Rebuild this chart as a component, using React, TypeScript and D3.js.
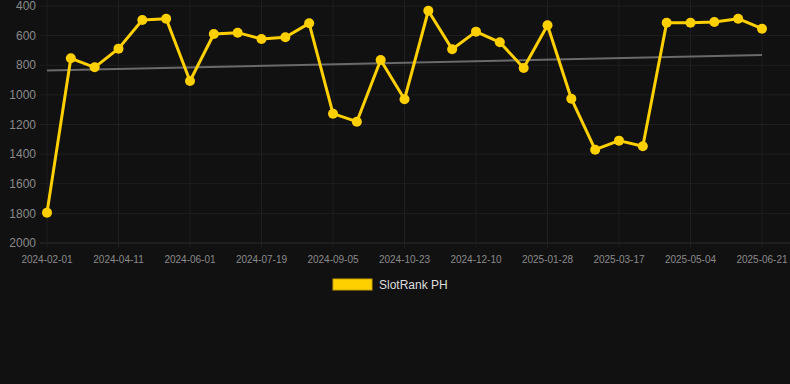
import React, { useEffect, useRef } from "react";
import * as d3 from "d3";

const dates = [
  "2024-02-01", "2024-02-24", "2024-03-18", "2024-04-11", "2024-04-28", "2024-05-15",
  "2024-06-01", "2024-06-17", "2024-07-03", "2024-07-19", "2024-08-04", "2024-08-20",
  "2024-09-05", "2024-09-21", "2024-10-07", "2024-10-23", "2024-11-08", "2024-11-24",
  "2024-12-10", "2024-12-26", "2025-01-12", "2025-01-28", "2025-02-13", "2025-03-01",
  "2025-03-17", "2025-04-02", "2025-04-18", "2025-05-04", "2025-05-20", "2025-06-05",
  "2025-06-21",
];

const ranks = [
  1795, 753, 814, 688, 495, 486, 906, 589, 580, 623, 611, 517, 1127, 1181, 765, 1030,
  432, 692, 573, 645, 819, 530, 1026, 1370, 1309, 1347, 513, 513, 508, 486, 553,
];

const yTicks = [400, 600, 800, 1000, 1200, 1400, 1600, 1800, 2000];
const seriesName = "SlotRank PH";

const W = 790;
const H = 384;

export default function App() {
  const ref = useRef<SVGSVGElement>(null);

  useEffect(() => {
    const svg = d3.select(ref.current);
    svg.selectAll("*").remove();

    const left = 47, right = 762, top = 6, bottom = 243;
    const gridRight = 790;

    const x = d3.scalePoint<string>().domain(dates).range([left, right]);
    const y = d3.scaleLinear().domain([400, 2000]).range([top, bottom]);

    svg.append("rect").attr("width", W).attr("height", H).attr("fill", "#111111");

    // horizontal grid + y labels
    const g = svg.append("g");
    g.selectAll("line.h")
      .data(yTicks)
      .enter()
      .append("line")
      .attr("x1", 40)
      .attr("x2", gridRight)
      .attr("y1", (d) => y(d))
      .attr("y2", (d) => y(d))
      .attr("stroke", (d) => (d === 2000 ? "#2c2c2c" : "#1f1f1f"))
      .attr("stroke-width", 1);

    g.selectAll("text.y")
      .data(yTicks)
      .enter()
      .append("text")
      .attr("x", 36)
      .attr("y", (d) => y(d))
      .attr("dy", "0.35em")
      .attr("text-anchor", "end")
      .attr("fill", "#8a8a8a")
      .attr("font-family", "Arial, 'Liberation Sans', sans-serif")
      .attr("font-size", 12)
      .text((d) => d);

    // vertical grid + x labels, every third category
    const shown = dates.filter((_, i) => i % 3 === 0);
    g.selectAll("line.v")
      .data(shown)
      .enter()
      .append("line")
      .attr("x1", (d) => x(d)!)
      .attr("x2", (d) => x(d)!)
      .attr("y1", 0)
      .attr("y2", bottom + 5)
      .attr("stroke", "#1f1f1f");

    g.selectAll("text.x")
      .data(shown)
      .enter()
      .append("text")
      .attr("x", (d) => x(d)!)
      .attr("y", 263)
      .attr("text-anchor", "middle")
      .attr("fill", "#8a8a8a")
      .attr("font-family", "Arial, 'Liberation Sans', sans-serif")
      .attr("font-size", 10)
      .text((d) => d);

    // trend line (least squares over index)
    const n = ranks.length;
    const mx = d3.mean(d3.range(n))!;
    const my = d3.mean(ranks)!;
    const slope =
      d3.sum(ranks, (v, i) => (i - mx) * (v - my)) / d3.sum(d3.range(n), (i) => (i - mx) ** 2);
    const icpt = my - slope * mx;
    svg
      .append("line")
      .attr("x1", x(dates[0])!)
      .attr("x2", x(dates[n - 1])!)
      .attr("y1", y(icpt))
      .attr("y2", y(icpt + slope * (n - 1)))
      .attr("stroke", "#6a6a6a")
      .attr("stroke-width", 2);

    const line = d3
      .line<number>()
      .x((_, i) => x(dates[i])!)
      .y((d) => y(d));

    svg
      .append("path")
      .datum(ranks)
      .attr("d", line)
      .attr("fill", "none")
      .attr("stroke", "#ffd000")
      .attr("stroke-width", 3)
      .attr("stroke-linejoin", "round");

    svg
      .selectAll("circle")
      .data(ranks)
      .enter()
      .append("circle")
      .attr("cx", (_, i) => x(dates[i])!)
      .attr("cy", (d) => y(d))
      .attr("r", 5)
      .attr("fill", "#ffd000");

    // legend
    const lg = svg.append("g");
    lg.append("rect")
      .attr("x", 333)
      .attr("y", 279)
      .attr("width", 39)
      .attr("height", 11)
      .attr("fill", "#ffd000")
      .attr("stroke", "#c9a400")
      .attr("stroke-width", 1);
    lg.append("text")
      .attr("x", 379)
      .attr("y", 285)
      .attr("dy", "0.35em")
      .attr("fill", "#dddddd")
      .attr("font-family", "Arial, 'Liberation Sans', sans-serif")
      .attr("font-size", 12)
      .text(seriesName);
  }, []);

  return (
    <div style={{ position: "fixed", left: 0, top: 0, background: "#111111", width: W, height: H }}>
      <svg ref={ref} width={W} height={H} style={{ display: "block" }} />
    </div>
  );
}
